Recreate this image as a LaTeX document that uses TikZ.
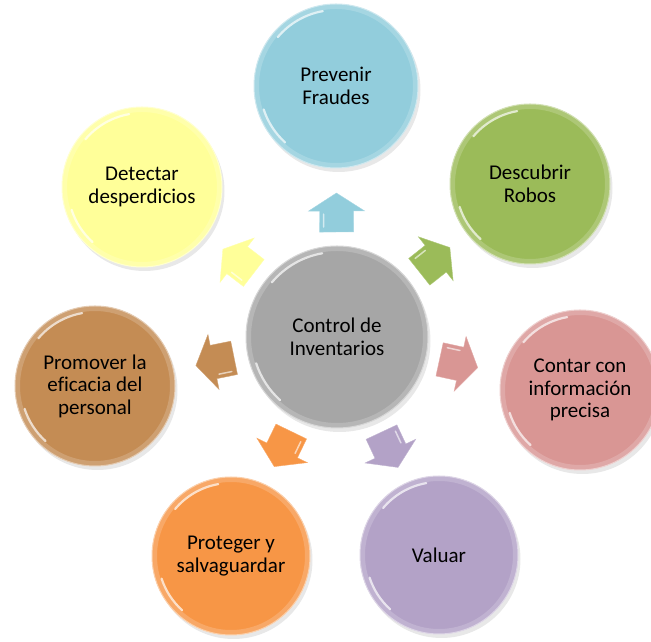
\documentclass[tikz,border=0pt]{standalone}
\usepackage{fontspec}
\setmainfont[Ligatures=NoCommon]{Carlito}
\usetikzlibrary{calc,shadows}
\definecolor{cgrey}{HTML}{A6A6A6}
\definecolor{cblue}{HTML}{92CDDC}
\definecolor{cgreen}{HTML}{9BBB59}
\definecolor{cpink}{HTML}{D99694}
\definecolor{cpurple}{HTML}{B3A2C7}
\definecolor{corange}{HTML}{F79646}
\definecolor{cbrown}{HTML}{C48C54}
\definecolor{cyellow}{HTML}{FFFF99}
\newcommand\glossfx{%
  \draw[white, opacity=.18, line width=5pt]
    let \p1=(path picture bounding box.center), \p2=(path picture bounding box.north east), \n1={\x2-\x1} in
    (\p1) circle[radius={\n1-2.5}];
  \draw[white, opacity=.7, line width=2.2pt, line cap=round]
    let \p1=(path picture bounding box.center), \p2=(path picture bounding box.north east), \n1={\x2-\x1} in
    ($(\p1)+(100:{\n1-6})$) arc[start angle=100, end angle=140, radius={\n1-6}]
    ($(\p1)+(198:{\n1-6})$) arc[start angle=198, end angle=228, radius={\n1-6}];
}
\tikzset{
  x=1pt, y=1pt,
  ball/.style={circle, inner sep=0pt, minimum size=160pt, fill=#1, draw=#1!45!white,
    line width=1pt, align=center, text=black, font=\fontsize{21}{22.5}\selectfont,
    drop shadow={shadow xshift=2.5pt, shadow yshift=-4pt, opacity=0.18},
    path picture={\glossfx}},
  blockarrow/.pic={
    \path[pic actions] (-19,-17) -- (2,-17) -- (2,-28) -- (20,0) -- (2,28) -- (2,17) -- (-19,17) -- cycle;
    \draw[white, opacity=.6, line width=1.5pt, line cap=round] (-14,13) -- (-1,13);
  },
}
\begin{document}
\begin{tikzpicture}
\useasboundingbox (0,0) rectangle (651,642);
\node[ball=cgrey, minimum size=182pt] (C) at (337,305) {Control de\\Inventarios};
\node[ball=cblue, minimum size=164pt] (top) at (336,556) {Prevenir\\Fraudes};
\node[ball=cgreen] (green) at (530,458) {Descubrir\\Robos};
\node[ball=cpink] (pink) at (580,252) {Contar con\\información\\precisa};
\node[ball=cpurple, minimum size=158pt] (purple) at (439,87) {Valuar};
\node[ball=corange, minimum size=158pt] (orange) at (231,86) {Proteger y\\salvaguardar};
\node[ball=cbrown] (brown) at (95,256) {Promover la\\eficacia del\\personal};
\node[ball=cyellow] (yellow) at (142,455) {Detectar\\desperdicios};
\foreach \t/\c in {top/cblue, green/cgreen, pink/cpink, purple/cpurple, orange/corange, brown/cbrown, yellow/cyellow}{
  \path let \p1=($(\t)-(C)$), \n1={atan2(\y1,\x1)} in
    ($(C)!124pt!(\t)$) pic[rotate=\n1, fill=\c, draw=\c!80!white, line width=.4pt, drop shadow={shadow xshift=1.5pt, shadow yshift=-2.5pt, opacity=0.15}] {blockarrow};
}
\end{tikzpicture}
\end{document}
